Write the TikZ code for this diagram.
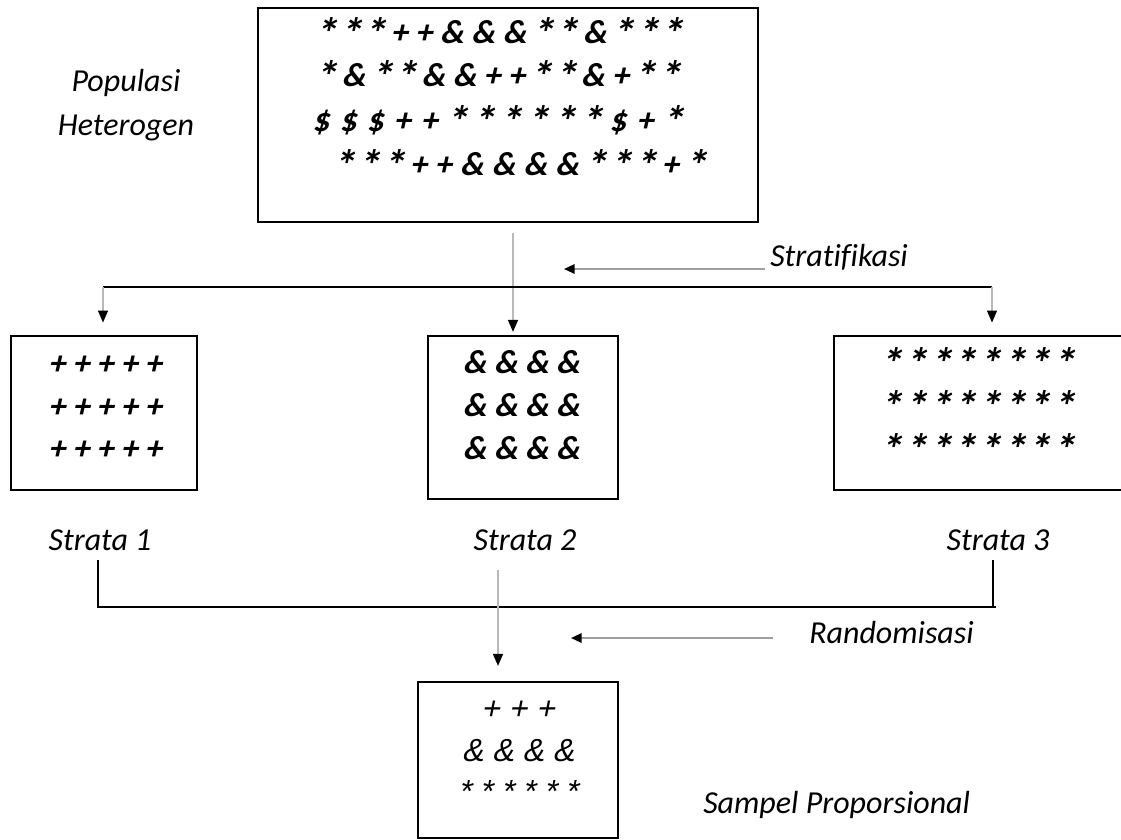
\documentclass[tikz,border=0pt]{standalone}
\usepackage{fontspec}
\setmainfont{Carlito}[Ligatures=NoCommon]
\newfontfamily\starfont{Carlito}[FakeSlant=0.22]
\newfontfamily\samplefont{Liberation Sans}[FakeSlant=0.2]
\usetikzlibrary{arrows.meta}

\newlength\pstarwd
\newcommand\pstar{\settowidth\pstarwd{*}\makebox[\pstarwd]{\raisebox{-0.15em}{\scalebox{1.3}{*}}}}

\tikzset{
  box/.style={draw, line width=2.2pt, inner sep=0pt},
  stars/.style={font=\fontsize{25}{32}\selectfont\starfont\bfseries, align=center, inner sep=0pt},
  caption/.style={font=\fontsize{24}{33}\selectfont\itshape, inner sep=0pt},
  thickline/.style={line width=2.2pt},
  thinarrow/.style={draw=gray!55, line width=1.1pt, -{Triangle[length=9pt,width=7.5pt,color=black]}},
  sidearrow/.style={draw=gray!75, line width=1.6pt, -{Triangle[length=8pt,width=7pt,color=black]}}
}

\begin{document}
\begin{tikzpicture}[x=0.75pt, y=-0.75pt]
        \path[fill=white, use as bounding box] (0,0) rectangle (1121,839);

        % boxes
        \node[box, minimum width=375pt, minimum height=160.5pt] (pop) at (508,115) {};
        \node[box, minimum width=139.5pt, minimum height=115.5pt] (s1) at (104,413) {};
        \node[box, minimum width=142.5pt, minimum height=122.25pt] (s2) at (523,417.5) {};
        \node[box, minimum width=218.25pt, minimum height=115.5pt] (s3) at (979.5,413) {};
        \node[box, minimum width=150pt, minimum height=117pt] (samp) at (518,760) {};

        % contents
        \node[stars, anchor=west] (row1) at (317,33) {\makebox[272pt][s]{\pstar{} \pstar{} \pstar{} + + \& \& \& \pstar{} \pstar{} \& \pstar{} \pstar{} \pstar}};
        \node[stars, anchor=west] (row2) at (317,76) {\makebox[270pt][s]{\pstar{} \& \pstar{} \pstar{} \& \& + + \pstar{} \pstar{} \& + \pstar{} \pstar}};
        \node[stars, anchor=west] (row3) at (312,121) {\makebox[276pt][s]{\$ \$ \$ + + \pstar{} \pstar{} \pstar{} \pstar{} \pstar{} \pstar{} \$ + \pstar}};
        \node[stars, anchor=west] (row4) at (335,165) {\makebox[276pt][s]{\pstar{} \pstar{} \pstar{} + + \& \& \& \& \pstar{} \pstar{} \pstar{} + \pstar}};
        \node[stars] (plus) at (105,408) {+ + + + +\\+ + + + +\\+ + + + +};
        \node[stars] (amps) at (521,405) {\& \& \& \&\\\& \& \& \&\\\& \& \& \&};
        \node[stars] (asts) at (977,406) {\makebox[142pt][s]{\pstar{} \pstar{} \pstar{} \pstar{} \pstar{} \pstar{} \pstar{} \pstar}\\\makebox[142pt][s]{\pstar{} \pstar{} \pstar{} \pstar{} \pstar{} \pstar{} \pstar{} \pstar}\\\makebox[142pt][s]{\pstar{} \pstar{} \pstar{} \pstar{} \pstar{} \pstar{} \pstar{} \pstar}};
        \node[align=center, inner sep=0pt, font=\samplefont\fontsize{24}{31}\selectfont] (mix) at (518,752) {+ + +\\\& \& \& \&\\* * * * * *};

        % labels
        \node[caption, align=center] (poplab) at (126,105) {Populasi\\Heterogen};
        \node[caption, anchor=west] (strat) at (770,257) {Stratifikasi};
        \node[caption] (st1) at (100,540) {Strata 1};
        \node[caption] (st2) at (525,540) {Strata 2};
        \node[caption] (st3) at (998,540) {Strata 3};
        \node[caption, anchor=west] (rand) at (809,632) {Randomisasi};
        \node[caption, anchor=west] (samplab) at (703,805) {Sampel Proporsional};

        % stratifikasi
        \coordinate (splitL) at (103,287);
        \coordinate (splitR) at (992,287);
        \coordinate (stratTip) at (564,269);
        \draw[thinarrow] ([xshift=3.75pt,yshift=-7.5pt]pop.south) -- ([xshift=3.75pt,yshift=2pt]pop.south |- s2.north);
        \draw[thickline] (splitL) -- (splitR);
        \draw[thinarrow, shorten >=9pt] (splitL) -- (splitL |- s1.north);
        \draw[thinarrow, shorten >=9pt] (splitR) -- (splitR |- s3.north);
        \draw[sidearrow, shorten <=4pt] (strat.west |- stratTip) -- (stratTip);

        % randomisasi
        \coordinate (legL) at (98,560);
        \coordinate (legR) at (993,560);
        \coordinate (joinL) at (98,607);
        \coordinate (joinR) at (996,607);
        \coordinate (randTop) at (498,570);
        \coordinate (randTail) at (773,638);
        \coordinate (randTip) at (571,638);
        \draw[thickline] (legL) -- (joinL) -- (joinR);
        \draw[thickline] (legR) -- (legR |- joinR);
        \draw[thinarrow, shorten >=11pt] (randTop) -- (randTop |- samp.north);
        \draw[sidearrow] (randTail) -- (randTip);
\end{tikzpicture}
\end{document}
